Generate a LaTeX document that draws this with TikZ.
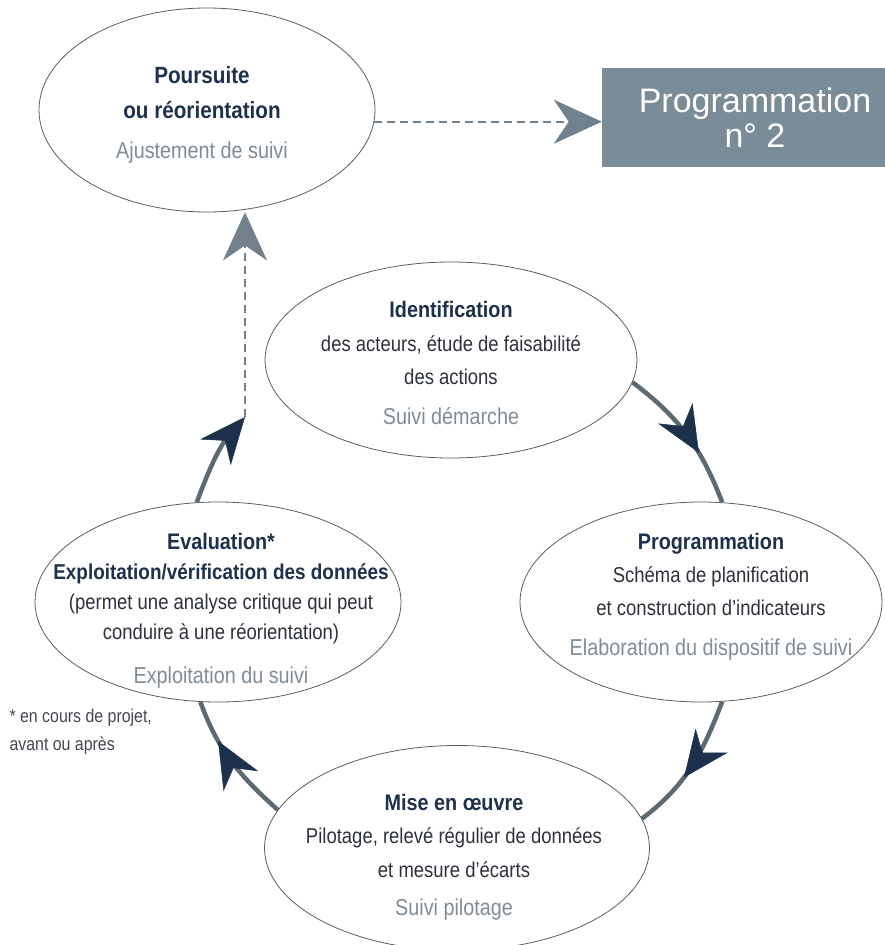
\documentclass[tikz,border=0pt]{standalone}
\usepackage{fontspec}
\setmainfont{Liberation Sans}[FakeStretch=0.86]
\newfontfamily\titrefont{Liberation Sans}[FakeStretch=0.88]
\newfontfamily\boxfont{Liberation Sans}
\usetikzlibrary{arrows.meta,shapes.geometric,decorations.markings}

\definecolor{navy}{RGB}{29,48,76}
\definecolor{encre}{RGB}{45,50,58}
\definecolor{gris}{RGB}{128,140,150}
\definecolor{ardoise}{RGB}{122,140,152}
\definecolor{trait}{RGB}{92,106,116}
\definecolor{pointille}{RGB}{112,128,140}
\definecolor{contour}{RGB}{90,92,98}

\newcommand{\titre}[2][22.5]{{\titrefont\bfseries\fontsize{#1}{30}\selectfont\color{navy}#2}}
\newcommand{\suivi}[1]{{\fontsize{23}{30}\selectfont\color{gris}#1}}

\tikzset{fleche/.tip={Stealth[length=46pt,width=40pt,inset=15pt,color=navy,line width=0.5pt]}}

\begin{document}
\begin{tikzpicture}[x=1pt,y=1pt,
    bulle/.style={ellipse,draw=contour,line width=0.8pt,inner sep=0pt},
    txt/.style={align=center,text=encre,font=\fontsize{21.5}{33}\selectfont},
    arc/.style={draw=trait,line width=4.5pt},
    boucle/.style={arc,decoration={markings,mark=at position #1 with {\arrow{fleche}}},postaction={decorate}},
    suite/.style={draw=pointille,line width=2.2pt,dash pattern=on 8pt off 5pt,
      -{Stealth[length=48pt,width=44pt,inset=15pt,color=pointille,line width=0.5pt]}},
    note/.style={align=left,text=encre!90,font=\fontsize{18.5}{28}\selectfont}]
  \useasboundingbox (0,0) rectangle (885,-945);

  % bulles
  \node[bulle,minimum width=336pt,minimum height=204pt] (pours) at (207,-110) {};
  \node[bulle,minimum width=372pt,minimum height=196pt] (ident) at (451,-360) {};
  \node[bulle,minimum width=362pt,minimum height=200pt] (prog) at (701,-602) {};
  \node[bulle,minimum width=366pt,minimum height=200pt] (eval) at (218,-602) {};
  \node[bulle,minimum width=385pt,minimum height=205pt] (mise) at (457,-848) {};
  \node[fill=ardoise,minimum width=306pt,minimum height=99pt,inner sep=0pt,text=white,
    align=center,font=\boxfont\fontsize{34}{35}\selectfont] (prog2) at (755,-117.5) {Programmation\\n° 2};

  % textes
  \node[txt,font=\fontsize{21.5}{35}\selectfont] (pours-t) at (202,-115)
    {\titre[23.5]{Poursuite}\\ \titre[23.5]{ou réorientation}\\[5pt] \suivi{Ajustement de suivi}};
  \node[txt,font=\fontsize{21.5}{33.5}\selectfont] (ident-t) at (451,-363)
    {\titre{Identification}\\ des acteurs, étude de faisabilité\\ des actions\\[6pt] \suivi{Suivi démarche}};
  \node[txt] (prog-t) at (711,-597)
    {\titre{Programmation}\\ Schéma de planification\\ et construction d'indicateurs\\[7pt] \suivi{Elaboration du dispositif de suivi}};
  \node[txt,font=\fontsize{21.5}{30}\selectfont] (eval-t) at (221,-611)
    {\titre{Evaluation*}\\ \titre[21.5]{Exploitation/vérification des données}\\ (permet une analyse critique qui peut\\ conduire à une réorientation)\\[14pt] \suivi{Exploitation du suivi}};
  \node[txt,font=\fontsize{21.5}{33.5}\selectfont] (mise-t) at (454,-857)
    {\titre{Mise en œuvre}\\ Pilotage, relevé régulier de données\\ et mesure d'écarts\\[5pt] \suivi{Suivi pilotage}};
  \node[note,anchor=north west] (note) at (6,-706) {* en cours de projet,\\avant ou après};

  \coordinate (relais) at (245,-417);

  % cycle
  \draw[boucle=0.64] (ident.-7) to[out=-37,in=111] (prog.78);
  \draw[boucle=0.59] (prog.-78) to[out=-111,in=37] (mise.9);
  \draw[boucle=0.68] (mise.168) to[out=138,in=-70] (eval.260);
  \draw[arc,-{fleche}] (eval.102) to[out=70,in=230] (relais);

  % suite
  \draw[suite] (relais) -- (relais |- pours.south);
  \draw[suite] (pours.-4) -- (pours.-4 -| prog2.west);
\end{tikzpicture}
\end{document}
